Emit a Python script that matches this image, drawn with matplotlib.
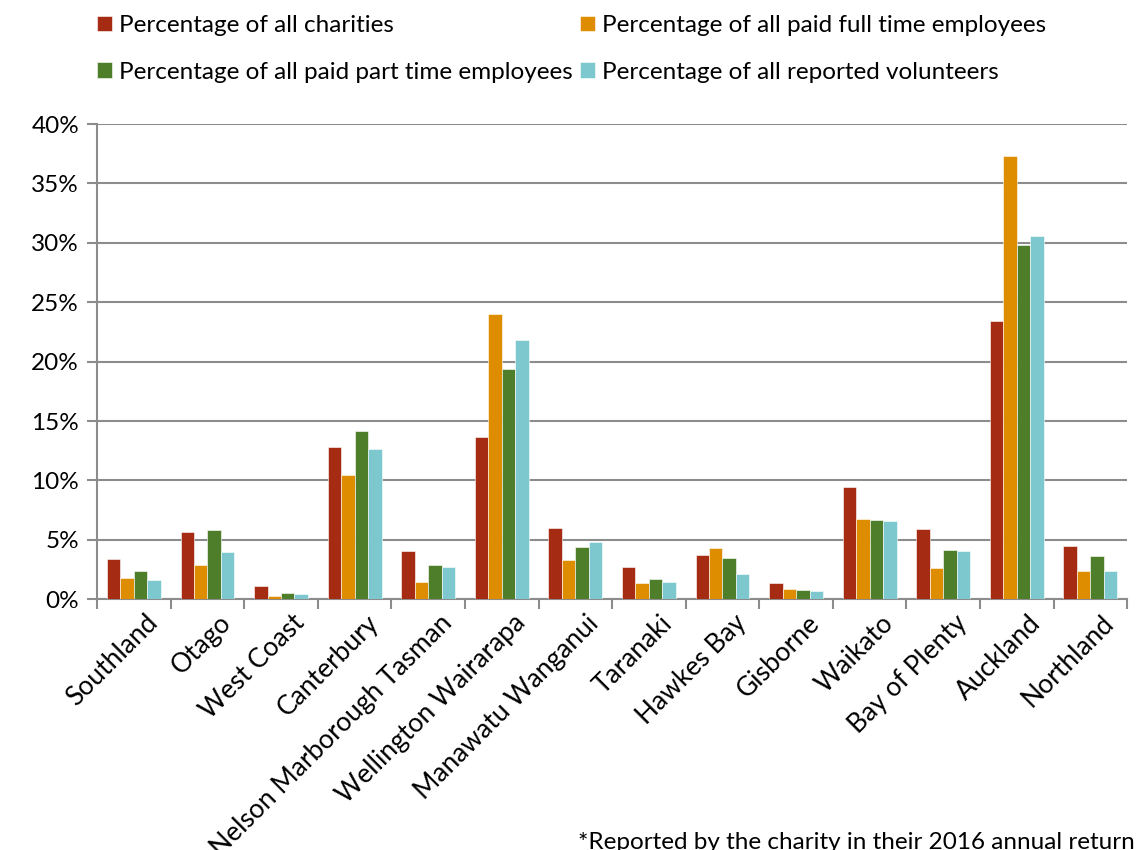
import matplotlib.pyplot as plt
import numpy as np
from matplotlib.ticker import FuncFormatter, MultipleLocator

regions = ["Southland", "Otago", "West Coast", "Canterbury",
           "Nelson Marborough Tasman", "Wellington Wairarapa",
           "Manawatu Wanganui", "Taranaki", "Hawkes Bay", "Gisborne",
           "Waikato", "Bay of Plenty", "Auckland", "Northland"]

charities = [3.4, 5.7, 1.15, 12.8, 4.05, 13.65, 6.0, 2.7, 3.7, 1.4, 9.45, 5.9, 23.4, 4.5]
full_time = [1.75, 2.9, 0.3, 10.45, 1.45, 24.0, 3.3, 1.35, 4.35, 0.85, 6.75, 2.6, 37.35, 2.4]
part_time = [2.35, 5.8, 0.5, 14.2, 2.9, 19.4, 4.4, 1.7, 3.5, 0.8, 6.65, 4.15, 29.85, 3.6]
volunteers = [1.65, 4.0, 0.4, 12.65, 2.7, 21.8, 4.8, 1.45, 2.1, 0.7, 6.6, 4.05, 30.55, 2.35]

labels = ["Percentage of all charities",
          "Percentage of all paid full time employees",
          "Percentage of all paid part time employees",
          "Percentage of all reported volunteers"]
colors = ["#A52B13", "#DE8C00", "#4F7E2A", "#7DC8CE"]

plt.rcParams["font.family"] = ["Lato", "DejaVu Sans"]
FS = 17.5

fig = plt.figure(figsize=(11.42, 8.5), dpi=100)
ax = fig.add_axes([0.085, 0.295, 0.902, 0.559])

x = np.arange(len(regions))
w = 0.183
bars = []
for i, (vals, col) in enumerate(zip([charities, full_time, part_time, volunteers], colors)):
    b = ax.bar(x + (i - 1.5) * w, vals, w, color=col, edgecolor="white",
               linewidth=0.4, zorder=3)
    bars.append(b)

ax.set_xlim(-0.5, len(regions) - 0.5)
ax.set_ylim(0, 40)
ax.yaxis.set_major_locator(MultipleLocator(5))
ax.yaxis.set_major_formatter(FuncFormatter(lambda v, _: f"{v:.0f}%"))
ax.grid(axis="y", color="#8c8c8c", linewidth=1.5, zorder=0)

for side in ["top", "right"]:
    ax.spines[side].set_visible(False)
for side in ["left", "bottom"]:
    ax.spines[side].set_color("#8c8c8c")
    ax.spines[side].set_linewidth(1.5)

ax.set_xticks(x + 0.15)
ax.set_xticklabels(regions, rotation=45, ha="right", rotation_mode="anchor",
                   fontsize=19)
ax.tick_params(axis="x", length=0, pad=8)
ax.set_xticks(np.arange(len(regions) + 1) - 0.5, minor=True)
ax.tick_params(axis="x", which="minor", length=7, width=1.5, color="#8c8c8c")
ax.tick_params(axis="y", length=7, width=1.5, color="#8c8c8c", labelsize=FS, pad=6)

order = [0, 2, 1, 3]
fig.legend([bars[i] for i in order], [labels[i] for i in order], ncol=2,
           loc="upper left", bbox_to_anchor=(0.066, 1.008), frameon=False,
           fontsize=FS, handlelength=0.6, handleheight=0.6,
           handletextpad=0.3, columnspacing=0.3, labelspacing=1.05)

fig.text(578 / 1142, 1 - 832 / 850, "*Reported by the charity in their 2016 annual return",
         fontsize=FS, va="top", ha="left")

fig.savefig("out.png", dpi=100)
